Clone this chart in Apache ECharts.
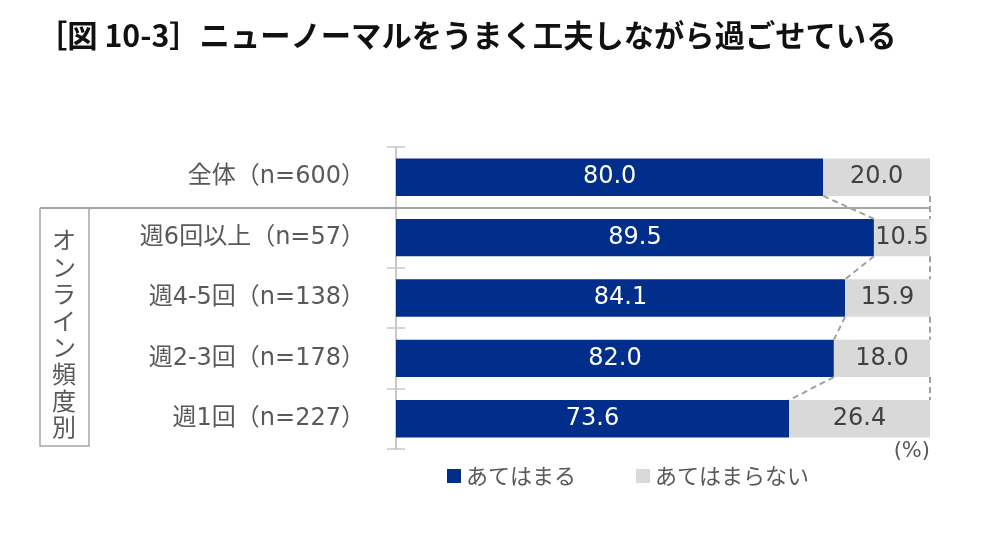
<!DOCTYPE html>
<html><head><meta charset="utf-8">
<script src="https://cdn.jsdelivr.net/npm/echarts@6/dist/echarts.min.js"></script>
<style>html,body{margin:0;padding:0;background:#fff}#c{width:992px;height:542px}</style>
</head><body><div id="c"></div>
<script>
var categories = ['全体（n=600）', '週6回以上（n=57）', '週4-5回（n=138）', '週2-3回（n=178）', '週1回（n=227）'];
var applies = [80.0, 89.5, 84.1, 82.0, 73.6];
var notApplies = [20.0, 10.5, 15.9, 18.0, 26.4];
var seriesNames = ['あてはまる', 'あてはまらない'];
var titleText = '［図 10-3］ニューノーマルをうまく工夫しながら過ごせている';
var groupLabel = 'オンライン頻度別';

var FONT = '"Noto Sans CJK JP", "Noto Sans", sans-serif';
var WFONT = 'DejaVu Sans, Noto Sans CJK JP, sans-serif';
var BAR_RATIO = 0.62;
var connectorData = [];
for (var i = 0; i < applies.length - 1; i++) {
  connectorData.push([applies[i], i, applies[i + 1], applies[i] + notApplies[i]]);
}

var chart = echarts.init(document.getElementById('c'), null, {renderer: 'canvas'});
chart.setOption({
  backgroundColor: '#fff',
  animation: false,
  textStyle: {fontFamily: FONT},
  title: {
    text: titleText, left: 32, top: 15,
    textStyle: {fontFamily: FONT, fontSize: 30.3, fontWeight: 'bold', color: '#111'}
  },
  legend: {
    data: seriesNames, left: 442, top: 460, itemWidth: 14, itemHeight: 14, icon: 'rect',
    itemGap: 60,
    textStyle: {fontFamily: FONT, fontSize: 22, color: '#595959'}
  },
  grid: {left: 396, right: 62, top: 147, bottom: 93},
  xAxis: {type: 'value', min: 0, max: 100, show: false},
  yAxis: [{
    type: 'category', data: categories, inverse: true,
    axisLine: {lineStyle: {color: '#C8C8C8', width: 2}},
    axisTick: {show: true, length: 9, lineStyle: {color: '#C8C8C8', width: 1.5}},
    axisLabel: {fontFamily: WFONT, fontSize: 24, color: '#595959', margin: 31, padding: [12, 0, 0, 0]}
  }, {
    type: 'category', data: categories, inverse: true, position: 'left',
    axisLine: {show: false},
    axisTick: {show: true, inside: true, length: 9, lineStyle: {color: '#C8C8C8', width: 1.5}},
    axisLabel: {show: false}
  }],
  series: [{
    name: seriesNames[0], type: 'bar', stack: 's', data: applies, barWidth: (BAR_RATIO * 100) + '%',
    itemStyle: {color: '#002E8A'},
    label: {show: true, position: 'inside', color: '#fff', fontFamily: WFONT, fontSize: 24,
      formatter: function (p) { return p.value.toFixed(1); }}
  }, {
    name: seriesNames[1], type: 'bar', stack: 's', data: notApplies,
    itemStyle: {color: '#D9D9D9'},
    label: {show: true, position: 'inside', color: '#404040', fontFamily: WFONT, fontSize: 24,
      formatter: function (p) { return p.value.toFixed(1); }}
  }, {
    type: 'custom', data: connectorData, encode: {x: [0, 2], y: 1}, z: 5, silent: true,
    renderItem: function (params, api) {
      var idx = api.value(1);
      var half = api.size([0, 1])[1] * BAR_RATIO / 2;
      var p1 = api.coord([api.value(0), idx]);
      var p2 = api.coord([api.value(2), idx + 1]);
      var r1 = api.coord([api.value(3), idx]);
      var r2 = api.coord([api.value(3), idx + 1]);
      var st = {stroke: '#A0A0A0', lineWidth: 2, lineDash: [6, 4], fill: null};
      return {type: 'group', children: [
        {type: 'line', shape: {x1: p1[0], y1: p1[1] + half, x2: p2[0], y2: p2[1] - half}, style: st},
        {type: 'line', shape: {x1: r1[0], y1: r1[1] + half, x2: r2[0], y2: r2[1] - half}, style: st}
      ]};
    }
  }],
  graphic: [
    {type: 'line', shape: {x1: 40, y1: 208, x2: 931, y2: 208}, style: {stroke: '#A6A6A6', lineWidth: 2}, z: 10},
    {type: 'polyline', shape: {points: [[40, 208], [40, 446], [89, 446], [89, 208]]}, style: {stroke: '#A6A6A6', lineWidth: 1.5, fill: null}},
    {type: 'text', x: 64, y: 227, style: {text: groupLabel.split('').join('\n'), align: 'center', fontFamily: FONT, fontSize: 24, lineHeight: 26.7, fill: '#595959'}},
    {type: 'text', right: 62, top: 441, style: {text: '(%)', fontFamily: WFONT, fontSize: 21, fill: '#595959'}}
  ]
});
</script></body></html>
